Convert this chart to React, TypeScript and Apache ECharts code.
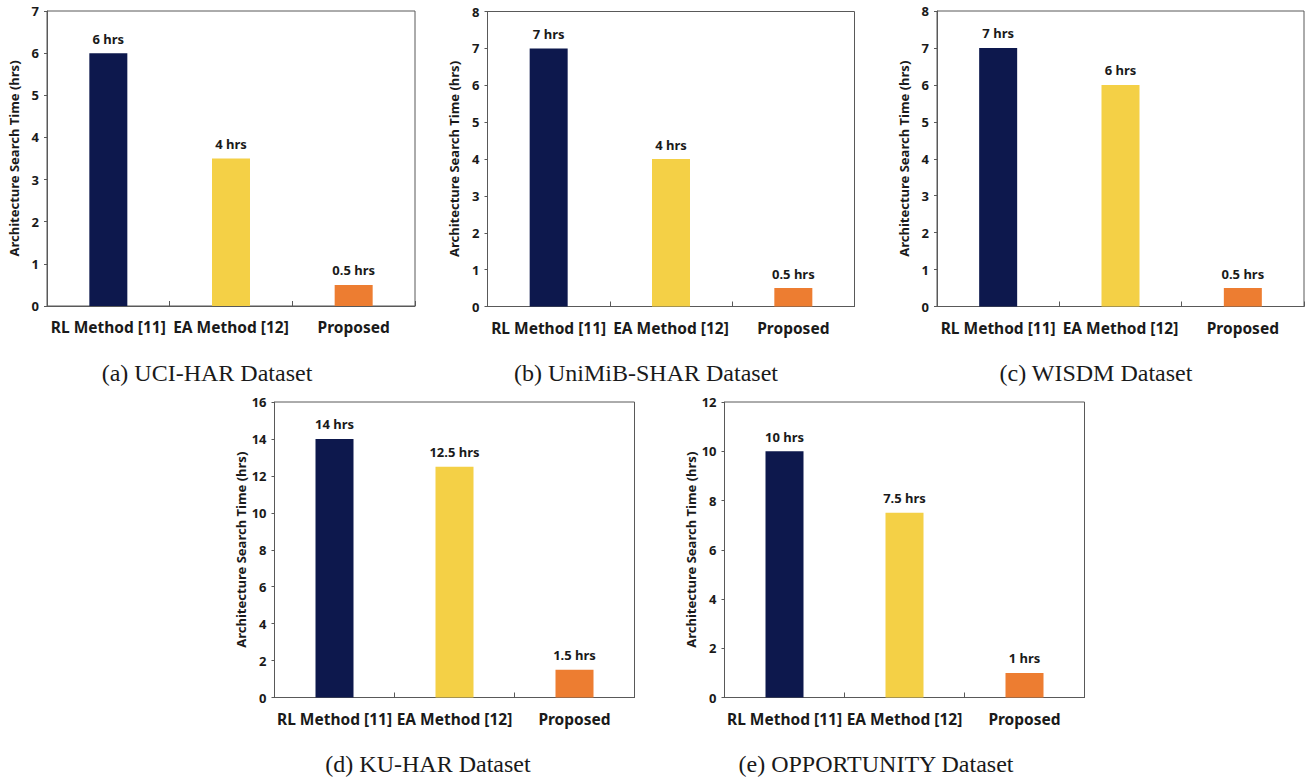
import React, { useEffect, useRef } from "react";
import * as echarts from "echarts";

const categories = ["RL Method [11]", "EA Method [12]", "Proposed"];
const barColors = ["#0d184d", "#f4d046", "#ed7d31"];

const uciValues = [6, 3.5, 0.5];
const uciLabels = ["6 hrs", "4 hrs", "0.5 hrs"];
const unimibValues = [7, 4, 0.5];
const unimibLabels = ["7 hrs", "4 hrs", "0.5 hrs"];
const wisdmValues = [7, 6, 0.5];
const wisdmLabels = ["7 hrs", "6 hrs", "0.5 hrs"];
const kuharValues = [14, 12.5, 1.5];
const kuharLabels = ["14 hrs", "12.5 hrs", "1.5 hrs"];
const oppValues = [10, 7.5, 1];
const oppLabels = ["10 hrs", "7.5 hrs", "1 hrs"];

const yMax = [7, 8, 8, 16, 12];
const yInterval = [1, 1, 1, 2, 2];
const captions = [
  "(a) UCI-HAR Dataset",
  "(b) UniMiB-SHAR Dataset",
  "(c) WISDM Dataset",
  "(d) KU-HAR Dataset",
  "(e) OPPORTUNITY Dataset",
];

const panels = [
  { values: uciValues, labels: uciLabels, grid: { left: 47, top: 11, width: 368, height: 295 }, cap: [207, 373] },
  { values: unimibValues, labels: unimibLabels, grid: { left: 487.5, top: 11.5, width: 367, height: 295 }, cap: [646, 373] },
  { values: wisdmValues, labels: wisdmLabels, grid: { left: 937, top: 11, width: 367, height: 295.5 }, cap: [1096, 373] },
  { values: kuharValues, labels: kuharLabels, grid: { left: 274.5, top: 402, width: 360, height: 295.5 }, cap: [428, 764] },
  { values: oppValues, labels: oppLabels, grid: { left: 724.5, top: 402, width: 360, height: 295.5 }, cap: [876, 764] },
];

const FONT = "'Noto Sans', sans-serif";
const AXIS = "#595959";

export default function App() {
  const ref = useRef<HTMLDivElement>(null);
  useEffect(() => {
    document.body.style.margin = "0";
    const chart = echarts.init(ref.current!, null, { renderer: "svg" });
    const option: any = {
      animation: false,
      backgroundColor: "#ffffff",
      grid: panels.map((p) => ({
        ...p.grid,
        show: true,
        borderColor: AXIS,
        borderWidth: 1,
        backgroundColor: "transparent",
        containLabel: false,
      })),
      xAxis: panels.map((p, i) => ({
        type: "category",
        gridIndex: i,
        data: categories,
        boundaryGap: true,
        axisLine: { show: true, lineStyle: { color: AXIS, width: 1 } },
        axisTick: { show: true, inside: true, length: 5, alignWithLabel: false, lineStyle: { color: AXIS } },
        axisLabel: {
          margin: 13,
          fontFamily: FONT,
          fontSize: 15.5,
          fontWeight: "bold",
          color: "#1a1a1a",
          interval: 0,
        },
        splitLine: { show: false },
      })),
      yAxis: panels.map((p, i) => ({
        type: "value",
        gridIndex: i,
        min: 0,
        max: yMax[i],
        interval: yInterval[i],
        name: "Architecture Search Time (hrs)",
        nameLocation: "middle",
        nameRotate: 90,
        nameGap: 27,
        nameTextStyle: { fontFamily: FONT, fontSize: 13, fontWeight: "bold", color: "#1a1a1a" },
        axisLine: { show: true, lineStyle: { color: AXIS, width: 1 } },
        axisTick: { show: true, inside: false, length: 3, lineStyle: { color: AXIS } },
        axisLabel: { margin: 8, fontFamily: FONT, fontSize: 13, fontWeight: "bold", color: "#1a1a1a" },
        splitLine: { show: false },
      })),
      series: panels.map((p, i) => ({
        type: "bar",
        xAxisIndex: i,
        yAxisIndex: i,
        barWidth: 38,
        data: p.values.map((v, j) => ({
          value: v,
          itemStyle: { color: barColors[j] },
          label: { formatter: p.labels[j] },
        })),
        label: {
          show: true,
          position: "top",
          distance: 8,
          fontFamily: FONT,
          fontSize: 13,
          fontWeight: "bold",
          color: "#1a1a1a",
        },
      })),
      graphic: panels.map((p, i) => ({
        type: "text",
        x: p.cap[0],
        y: p.cap[1],
        style: {
          text: captions[i],
          fontFamily: "'Liberation Serif', 'Times New Roman', serif",
          fontSize: 24,
          fill: "#1a1a1a",
          textAlign: "center",
          textVerticalAlign: "middle",
        },
      })),
    };
    chart.setOption(option);
    return () => chart.dispose();
  }, []);
  return <div ref={ref} style={{ width: 1315, height: 781 }} />;
}
